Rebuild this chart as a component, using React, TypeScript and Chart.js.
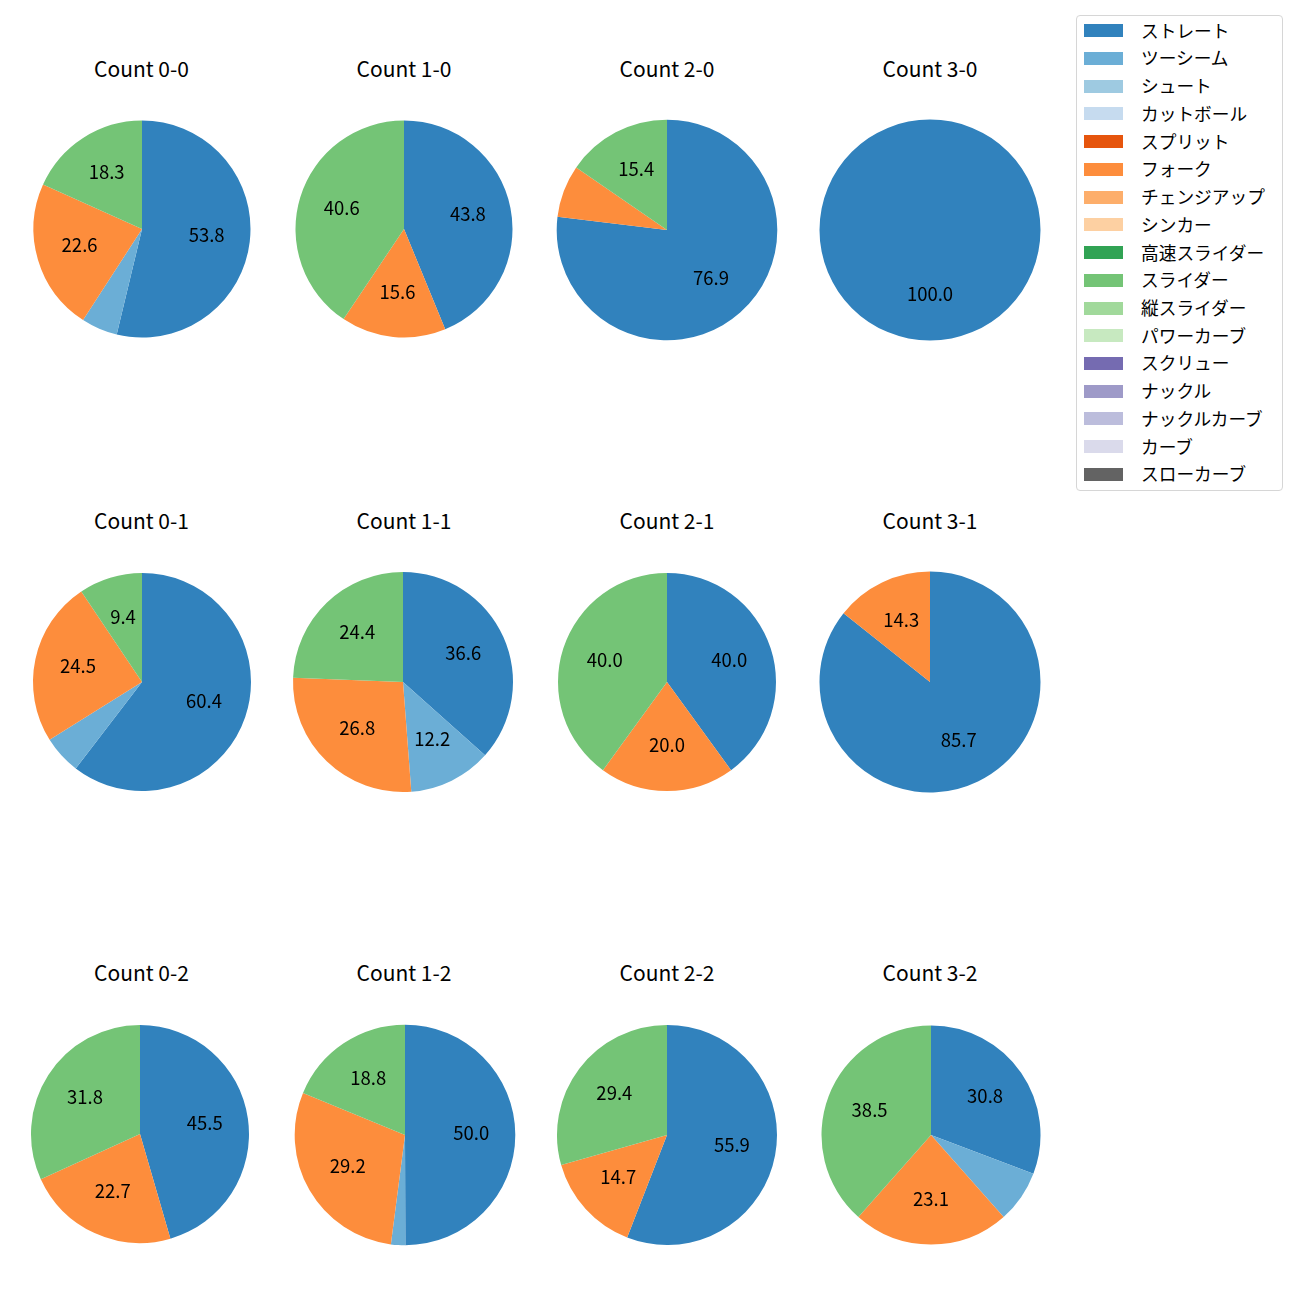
import React, { useEffect, useRef } from "react";
import { Chart, registerables } from "chart.js";

Chart.register(...registerables);

// ---- data ----
const pitchTypes = [
  "ストレート", "ツーシーム", "シュート", "カットボール", "スプリット", "フォーク",
  "チェンジアップ", "シンカー", "高速スライダー", "スライダー", "縦スライダー",
  "パワーカーブ", "スクリュー", "ナックル", "ナックルカーブ", "カーブ", "スローカーブ",
];
const pitchColors = [
  "#3182bd", "#6baed6", "#9ecae1", "#c6dbef", "#e6550d", "#fd8d3c",
  "#fdae6b", "#fdd0a2", "#31a354", "#74c476", "#a1d99b",
  "#c7e9c0", "#756bb1", "#9e9ac8", "#bcbddc", "#dadaeb", "#636363",
];
const countLabels = ["0-0", "1-0", "2-0", "3-0", "0-1", "1-1", "2-1", "3-1", "0-2", "1-2", "2-2", "3-2"];
const straightPct = [53.8, 43.8, 76.9, 100.0, 60.4, 36.6, 40.0, 85.7, 45.5, 50.0, 55.9, 30.8];
const twoSeamPct = [5.4, 0, 0, 0, 5.7, 12.2, 0, 0, 0, 2.1, 0, 7.7];
const forkPct = [22.6, 15.6, 7.7, 0, 24.5, 26.8, 20.0, 14.3, 22.7, 29.2, 14.7, 23.1];
const sliderPct = [18.3, 40.6, 15.4, 0, 9.4, 24.4, 40.0, 0, 31.8, 18.8, 29.4, 38.5];

const seriesByType: Record<string, number[]> = {
  "ストレート": straightPct,
  "ツーシーム": twoSeamPct,
  "フォーク": forkPct,
  "スライダー": sliderPct,
};

// ---- layout ----
const pieX = [142, 403.5, 667, 930, 142, 403, 667, 930, 140, 404.5, 667, 931];
const pieY = [229, 229, 229.7, 230, 681.5, 682, 682, 682, 1134, 1135, 1134.5, 1134.8];
const pieR = [108.5, 108.5, 110.3, 110.5, 109, 110, 109, 110.5, 109, 110.3, 110, 109.5];
const titleY = [68, 520, 972];
const colTitleX = [141.5, 404, 667, 930];
const FONT = "'Noto Sans CJK JP', 'Noto Sans', sans-serif";
const CANVAS = 240;

const pctLabelPlugin = {
  id: "pctLabels",
  afterDatasetsDraw(chart: any) {
    const ctx = chart.ctx;
    const meta = chart.getDatasetMeta(0);
    const data = chart.data.datasets[0].data as number[];
    const total = data.reduce((a: number, b: number) => a + b, 0);
    ctx.save();
    ctx.font = `18.5px ${FONT}`;
    ctx.fillStyle = "#000";
    ctx.textAlign = "center";
    ctx.textBaseline = "middle";
    meta.data.forEach((arc: any, i: number) => {
      const v = data[i];
      if (!v || (v / total) * 100 < 8) return;
      const p = arc.getProps(["x", "y", "startAngle", "endAngle", "outerRadius"], true);
      const mid = (p.startAngle + p.endAngle) / 2;
      const r = p.outerRadius * 0.6;
      ctx.fillText(v.toFixed(1), p.x + Math.cos(mid) * r, p.y + Math.sin(mid) * r - 2);
    });
    ctx.restore();
  },
};

function Pie({ idx }: { idx: number }) {
  const ref = useRef<HTMLCanvasElement>(null);
  useEffect(() => {
    if (!ref.current) return;
    const values = pitchTypes.map((t) => (seriesByType[t] ? seriesByType[t][idx] : 0));
    const chart = new Chart(ref.current, {
      type: "pie",
      data: {
        labels: pitchTypes,
        datasets: [
          {
            data: values,
            backgroundColor: pitchColors,
            borderWidth: 0,
          },
        ],
      },
      options: {
        responsive: false,
        animation: false,
        radius: pieR[idx],
        layout: { padding: 0 },
        plugins: { legend: { display: false }, tooltip: { enabled: false }, title: { display: false } },
      } as any,
      plugins: [pctLabelPlugin],
    });
    return () => chart.destroy();
  }, [idx]);
  return (
    <canvas
      ref={ref}
      width={CANVAS}
      height={CANVAS}
      style={{
        position: "absolute",
        left: pieX[idx] - CANVAS / 2,
        top: pieY[idx] - CANVAS / 2,
        width: CANVAS,
        height: CANVAS,
      }}
    />
  );
}

export default function App() {
  return (
    <div
      style={{
        position: "absolute",
        left: 0,
        top: 0,
        width: 1300,
        height: 1300,
        background: "#fff",
        fontFamily: FONT,
        color: "#000",
      }}
    >
      {countLabels.map((c, i) => (
        <React.Fragment key={c}>
          <Pie idx={i} />
          <div
            style={{
              position: "absolute",
              left: colTitleX[i % 4] - 100,
              top: titleY[Math.floor(i / 4)] - 15,
              width: 200,
              textAlign: "center",
              fontSize: 21,
              lineHeight: "30px",
              whiteSpace: "nowrap",
            }}
          >
            {`Count ${c}`}
          </div>
        </React.Fragment>
      ))}
      <div
        style={{
          position: "absolute",
          left: 1076,
          top: 15,
          width: 205,
          height: 474,
          border: "1px solid #d6d6d6",
          borderRadius: 4,
          background: "#fff",
        }}
      >
        {pitchTypes.map((t, i) => (
          <div key={t} style={{ position: "absolute", left: 0, top: 14.7 + i * 27.73 - 14, height: 28, width: 205 }}>
            <div
              style={{
                position: "absolute",
                left: 7,
                top: 7.5,
                width: 39,
                height: 13,
                background: pitchColors[i],
              }}
            />
            <div
              style={{
                position: "absolute",
                left: 64,
                top: -1,
                height: 28,
                lineHeight: "28px",
                fontSize: 17.7,
                whiteSpace: "nowrap",
              }}
            >
              {t}
            </div>
          </div>
        ))}
      </div>
    </div>
  );
}
